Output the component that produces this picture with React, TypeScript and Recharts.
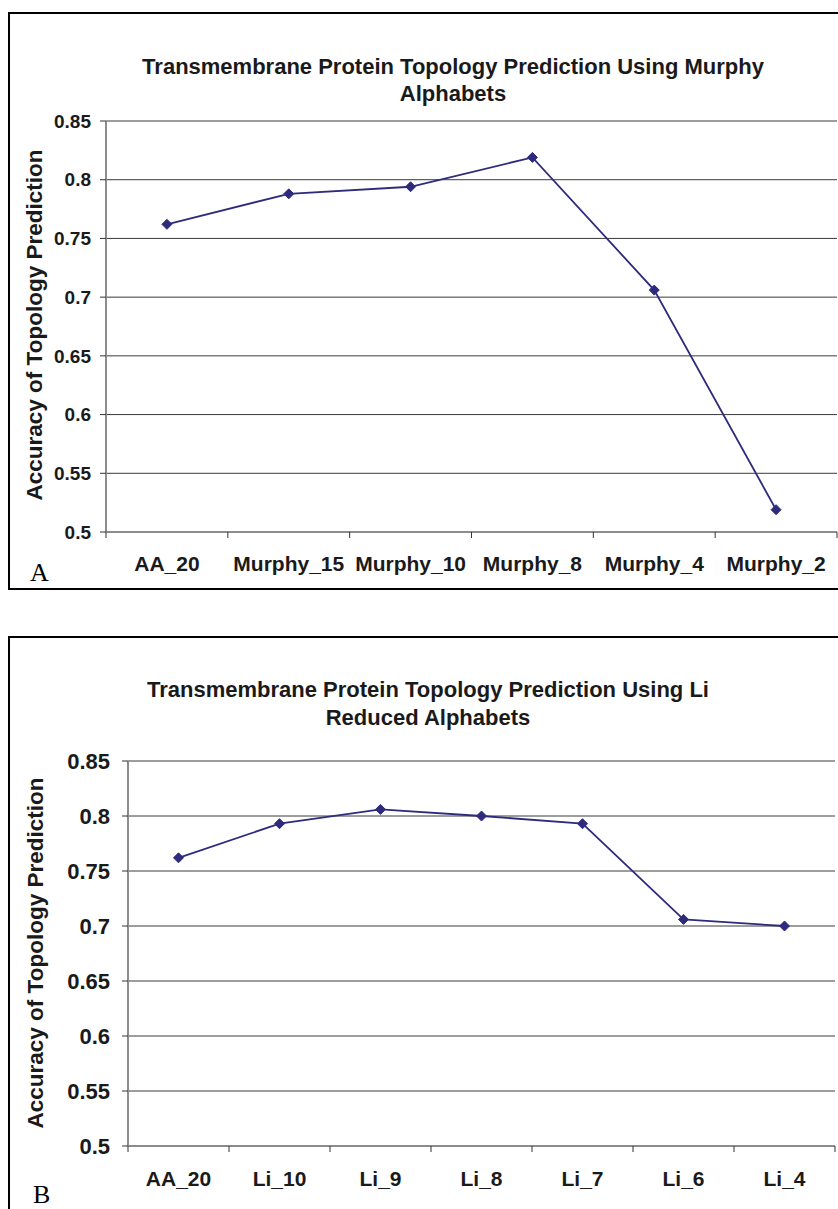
import { CartesianGrid, Line, LineChart, XAxis, YAxis } from "recharts";

const murphyCategories = ["AA_20", "Murphy_15", "Murphy_10", "Murphy_8", "Murphy_4", "Murphy_2"];
const murphyAccuracy = [0.762, 0.788, 0.794, 0.819, 0.706, 0.519];

const liCategories = ["AA_20", "Li_10", "Li_9", "Li_8", "Li_7", "Li_6", "Li_4"];
const liAccuracy = [0.762, 0.793, 0.806, 0.8, 0.793, 0.706, 0.7];

const yTicks = [0.5, 0.55, 0.6, 0.65, 0.7, 0.75, 0.8, 0.85];

const FONT = '"Liberation Sans", Arial, Helvetica, sans-serif';
const LINE = "#2e2b7c";
const TEXT = "#1a1a1a";
const W = 838;

function Diamond(props: any) {
  const { cx, cy, index } = props;
  if (cx == null || cy == null) return null;
  const r = 5;
  return (
    <path
      key={index}
      d={`M${cx},${cy - r}L${cx + r},${cy}L${cx},${cy + r}L${cx - r},${cy}Z`}
      fill={LINE}
      stroke={LINE}
    />
  );
}

// excel style: tick marks between categories, label in the middle
function bandTick(band: number, count: number, fontSize: number, labelDy: number) {
  return (props: any) => {
    const { x, y, payload, index } = props;
    return (
      <g>
        <line x1={x - band / 2} x2={x - band / 2} y1={y} y2={y + 6} stroke="#333" />
        {index === count - 1 && (
          <line x1={x + band / 2} x2={x + band / 2} y1={y} y2={y + 6} stroke="#333" />
        )}
        <text
          x={x}
          y={y + labelDy}
          textAnchor="middle"
          fontSize={fontSize}
          fontWeight="bold"
          fill={TEXT}
          fontFamily={FONT}
        >
          {payload.value}
        </text>
      </g>
    );
  };
}

interface PanelProps {
  top: number;
  height: number;
  categories: string[];
  values: number[];
  plotTop: number;
  plotBottom: number;
  plotLeft: number;
  plotRight: number;
  xFont: number;
  yFont: number;
  yMargin: number;
  labelDy: number;
}

function Panel(p: PanelProps) {
  const data = p.categories.map((name, i) => ({ name, value: p.values[i] }));
  const band = (p.plotRight - p.plotLeft) / p.categories.length;
  return (
    <div style={{ position: "absolute", left: 0, top: p.top }}>
      <LineChart
        width={W}
        height={p.height}
        data={data}
        margin={{ top: p.plotTop, right: W - p.plotRight, bottom: 0, left: 0 }}
      >
        <CartesianGrid vertical={false} stroke="#3a3a3a" />
        <XAxis
          dataKey="name"
          scale="band"
          interval={0}
          height={p.height - p.plotBottom}
          tickSize={0}
          tickMargin={0}
          tickLine={false}
          axisLine={{ stroke: "#8c8c8c", strokeWidth: 2 }}
          tick={bandTick(band, p.categories.length, p.xFont, p.labelDy)}
        />
        <YAxis
          type="number"
          domain={[0.5, 0.85]}
          ticks={yTicks}
          interval={0}
          allowDataOverflow
          width={p.plotLeft}
          tickSize={6}
          tickMargin={p.yMargin}
          tickLine={{ stroke: "#333" }}
          axisLine={{ stroke: "#8c8c8c", strokeWidth: 2 }}
          tick={{ fontSize: p.yFont, fontWeight: "bold", fill: TEXT, fontFamily: FONT }}
        />
        <Line
          dataKey="value"
          stroke={LINE}
          strokeWidth={1.8}
          dot={Diamond}
          activeDot={false}
          isAnimationActive={false}
        />
      </LineChart>
    </div>
  );
}

const abs = (s: React.CSSProperties): React.CSSProperties => ({ position: "absolute", ...s });

export default function App() {
  return (
    <div style={abs({ left: 0, top: 0, width: W, height: 1209, overflow: "hidden", background: "#fff" })}>
      {/* panel A */}
      <div style={abs({ left: 8, top: 12, width: 890, height: 574, border: "2px solid #000" })} />
      <div
        style={abs({
          left: 453 - 400,
          top: 53,
          width: 800,
          textAlign: "center",
          fontFamily: FONT,
          fontWeight: "bold",
          fontSize: 22,
          lineHeight: "27px",
          color: TEXT,
        })}
      >
        Transmembrane Protein Topology Prediction Using Murphy
        <br />
        Alphabets
      </div>
      <div
        style={abs({
          left: 35 - 200,
          top: 325 - 13,
          width: 400,
          height: 26,
          lineHeight: "26px",
          textAlign: "center",
          transform: "rotate(-90deg)",
          fontFamily: FONT,
          fontWeight: "bold",
          fontSize: 22.5,
          color: TEXT,
        })}
      >
        Accuracy of Topology Prediction
      </div>
      <Panel
        top={0}
        height={600}
        categories={murphyCategories}
        values={murphyAccuracy}
        plotTop={121}
        plotBottom={532}
        plotLeft={106}
        plotRight={837}
        xFont={21}
        yFont={19}
        yMargin={9}
        labelDy={39}
      />
      <div style={abs({ left: 30, top: 560, fontFamily: '"Liberation Serif", "Times New Roman", serif', fontSize: 26, lineHeight: "26px" })}>
        A
      </div>

      {/* panel B */}
      <div style={abs({ left: 8, top: 636, width: 840, height: 620, border: "2px solid #000" })} />
      <div
        style={abs({
          left: 428 - 400,
          top: 676,
          width: 800,
          textAlign: "center",
          fontFamily: FONT,
          fontWeight: "bold",
          fontSize: 22,
          lineHeight: "28px",
          color: TEXT,
        })}
      >
        Transmembrane Protein Topology Prediction Using Li
        <br />
        Reduced Alphabets
      </div>
      <div
        style={abs({
          left: 36 - 200,
          top: 953 - 13,
          width: 400,
          height: 26,
          lineHeight: "26px",
          textAlign: "center",
          transform: "rotate(-90deg)",
          fontFamily: FONT,
          fontWeight: "bold",
          fontSize: 22.5,
          color: TEXT,
        })}
      >
        Accuracy of Topology Prediction
      </div>
      <Panel
        top={640}
        height={569}
        categories={liCategories}
        values={liAccuracy}
        plotTop={121}
        plotBottom={506}
        plotLeft={128}
        plotRight={835}
        xFont={21}
        yFont={22}
        yMargin={12}
        labelDy={40}
      />
      <div style={abs({ left: 33, top: 1182, fontFamily: '"Liberation Serif", "Times New Roman", serif', fontSize: 26, lineHeight: "26px" })}>
        B
      </div>
    </div>
  );
}
